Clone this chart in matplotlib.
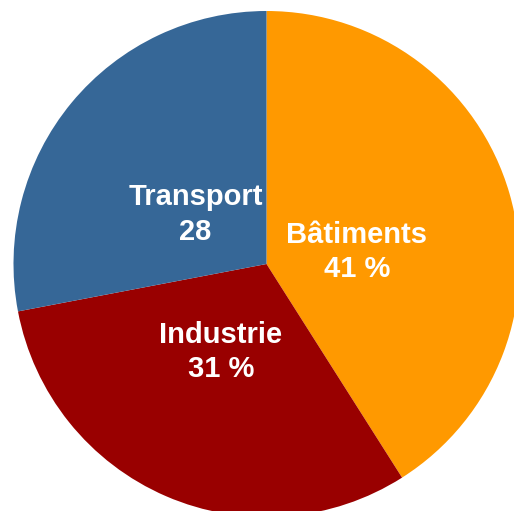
import matplotlib
matplotlib.use("Agg")
import matplotlib.pyplot as plt

# ---- data ----
categories = ["Bâtiments", "Industrie", "Transport"]
values = [41, 31, 28]
value_labels = ["41 %", "31 %", "28"]
colors = ["#FF9900", "#990000", "#366797"]

# ---- layout ----
W, H, DPI = 514, 511, 100
CX, CY, R = 266.5, 264.0, 253.0   # pie centre / radius in pixels (from top-left)

fig = plt.figure(figsize=(W / DPI, H / DPI), dpi=DPI)
ax = fig.add_axes([0, 0, 1, 1])
ax.pie(values, colors=colors, startangle=90, counterclock=False,
       radius=1.0, center=(0, 0),
       wedgeprops=dict(linewidth=0, antialiased=True))
ax.set_xlim(-CX / R, (W - CX) / R)
ax.set_ylim(-(H - CY) / R, CY / R)
ax.set_aspect("auto")
ax.axis("off")

def to_data(px, py):
    return (px - CX) / R, (CY - py) / R

# label anchors (pixel x centre, first-line baseline, second-line baseline)
anchors = {
    "Bâtiments": (357.0, 242.7, 277.3),
    "Industrie": (221.0, 342.7, 376.7),
    "Transport": (195.5, 204.7, 239.7),
}
font = dict(family=["Liberation Sans", "DejaVu Sans"], weight="bold",
            size=21, color="white")
for name, vl in zip(categories, value_labels):
    px, b1, b2 = anchors[name]
    x1, y1 = to_data(px, b1)
    x2, y2 = to_data(px, b2)
    ax.text(x1, y1, name, ha="center", va="baseline", **font)
    ax.text(x2, y2, vl, ha="center", va="baseline", **font)

fig.savefig("out.png", dpi=DPI, facecolor="white")
